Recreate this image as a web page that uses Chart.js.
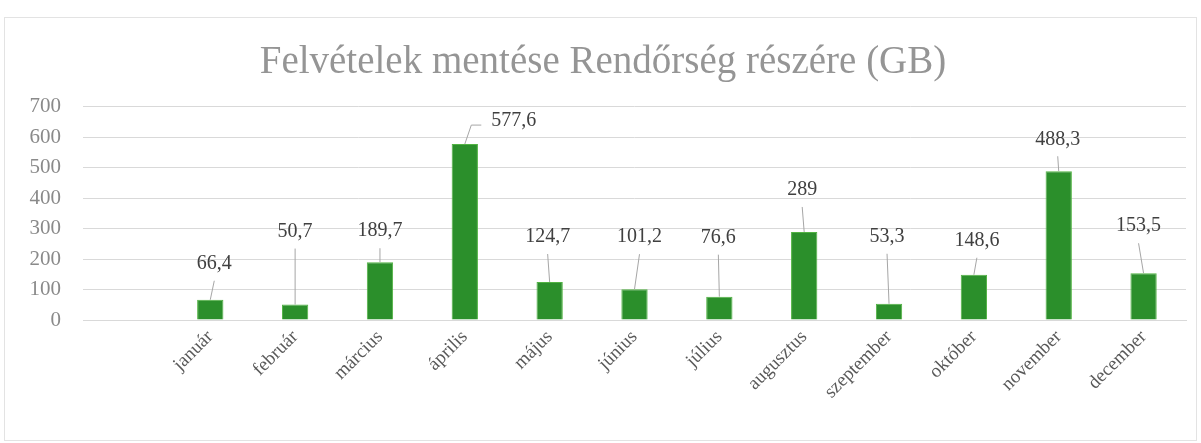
<!DOCTYPE html>
<html lang="hu">
<head>
<meta charset="utf-8">
<title>Felvételek mentése Rendőrség részére (GB)</title>
<script src="https://cdn.jsdelivr.net/npm/chart.js@4.4.1/dist/chart.umd.min.js"></script>
<style>
  html, body { margin: 0; padding: 0; background: #fff; }
  #wrap { width: 1201px; height: 443px; position: relative; }
</style>
</head>
<body>
<div id="wrap"><canvas id="gbChart" width="1201" height="443"></canvas></div>
<script>
// ======== DATA ========
const months = ["", "január", "február", "március", "április", "május", "június",
  "július", "augusztus", "szeptember", "október", "november", "december"];
const savedGB = [null, 66.4, 50.7, 189.7, 577.6, 124.7, 101.2, 76.6, 289, 53.3, 148.6, 488.3, 153.5];
const yMin = 0;
const yMax = 700;
const yStep = 100;

// label offsets from bar top (px) - style only
const labelOffsets = [null, [4, -36], [0, -73], [0, -31], [49, -23], [-2, -45], [5, -52],
  [-1, -59], [-2, -42], [-2, -67], [3, -34], [-1, -32], [-5, -47]];

document.addEventListener("DOMContentLoaded", () => {
  const canvas = document.getElementById("gbChart");

  // ======== BACKGROUND + FRAME ========
  const frame = {
    id: "frame",
    beforeDraw(chart) {
      const ctx = chart.ctx;
      ctx.save();
      ctx.fillStyle = "#fff";
      ctx.fillRect(0, 0, chart.width, chart.height);
      ctx.strokeStyle = "#e3e3e3";
      ctx.lineWidth = 1;
      ctx.strokeRect(4.5, 17.5, chart.width - 9, chart.height - 20);
      ctx.restore();
    }
  };

  // ======== DATA LABELS WITH LEADER LINES ========
  const valueLabels = {
    id: "valueLabels",
    afterDatasetsDraw(chart) {
      const ctx = chart.ctx;
      const meta = chart.getDatasetMeta(0);
      ctx.save();
      ctx.font = "20px 'Liberation Serif', serif";
      ctx.textAlign = "center";
      ctx.textBaseline = "middle";
      meta.data.forEach((bar, i) => {
        const v = savedGB[i];
        if (v == null) return;
        const off = labelOffsets[i];
        const txt = String(v).replace(".", ",");
        const lx = bar.x + off[0];
        const ly = bar.y + off[1];
        const w = ctx.measureText(txt).width;

        ctx.strokeStyle = "#a6a6a6";
        ctx.lineWidth = 1;
        ctx.beginPath();
        if (Math.abs(off[0]) > w / 2) {
          // elbow line to the left side of the label
          const ex = lx - w / 2 - 10;
          ctx.moveTo(bar.x, bar.y);
          ctx.lineTo(ex - 10, ly + 4);
          ctx.lineTo(ex, ly + 4);
        } else {
          const gap = ly + 11;
          if (bar.y - gap > 4) {
            ctx.moveTo(lx, gap + 6);
            ctx.lineTo(bar.x, bar.y);
          }
        }
        ctx.stroke();

        ctx.fillStyle = "#404040";
        ctx.fillText(txt, lx, ly);
      });
      ctx.restore();
    }
  };

  // ======== CHART ========
  new Chart(canvas, {
    type: "bar",
    data: {
      labels: months,
      datasets: [{
        data: savedGB,
        backgroundColor: "#2b8f2b",
        borderColor: "#52b343",
        borderWidth: 1,
        barPercentage: 0.31,
        categoryPercentage: 1
      }]
    },
    options: {
      responsive: false,
      animation: false,
      layout: { padding: { left: 20, right: 15, top: 0, bottom: 0 } },
      plugins: {
        legend: { display: false },
        tooltip: { enabled: false },
        title: {
          display: true,
          text: "Felvételek mentése Rendőrség részére (GB)",
          color: "#959595",
          font: { family: "'Liberation Serif', serif", size: 39, weight: "normal" },
          padding: { top: 39, bottom: 21 }
        }
      },
      scales: {
        x: {
          grid: { display: false, drawTicks: false },
          border: { color: "#d9d9d9" },
          ticks: {
            color: "#595959",
            font: { family: "'Liberation Serif', serif", size: 19 },
            minRotation: 45,
            maxRotation: 45,
            padding: 6,
            autoSkip: false
          },
          afterFit(scale) { scale.height = 123; }
        },
        y: {
          min: yMin,
          max: yMax,
          grid: { color: "#d9d9d9", drawTicks: false },
          border: { display: false },
          ticks: {
            stepSize: yStep,
            color: "#8a8a8a",
            font: { family: "'Liberation Serif', serif", size: 21 },
            padding: 22
          },
          afterFit(scale) { scale.width = 63; }
        }
      }
    },
    plugins: [frame, valueLabels]
  });
});
</script>
</body>
</html>
